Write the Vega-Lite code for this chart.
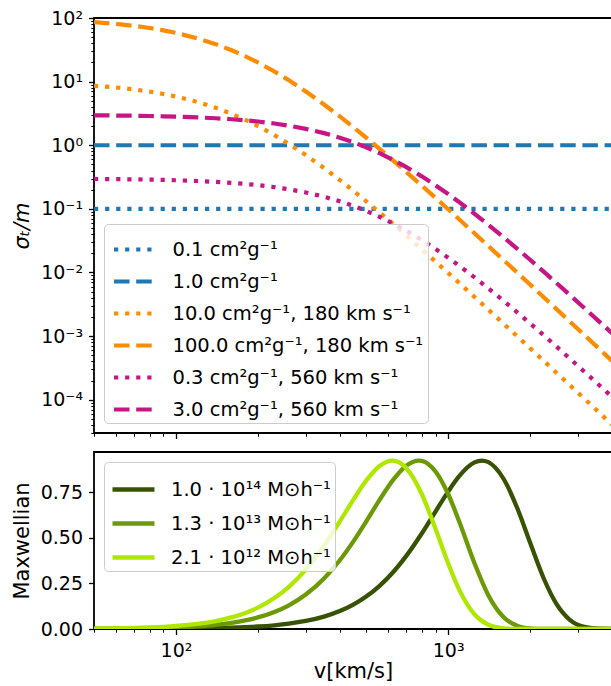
{
"$schema": "https://vega.github.io/schema/vega-lite/v6.json",
"padding": {"left": 10, "top": 8, "right": 0, "bottom": 0},
"spacing": 19,
"bounds": "flush",
"config": {
  "view": {"stroke": "black", "strokeWidth": 1.8},
  "font": "DejaVu Sans",
  "axis": {"grid": false, "domain": false, "tickColor": "black", "labelColor": "black", "labelFont": "DejaVu Sans", "labelFontSize": 19, "titleFont": "DejaVu Sans", "titleFontSize": 21, "titleFontWeight": "normal", "titleColor": "black", "tickWidth": 1.3, "tickSize": 5.5, "labelPadding": 6},
  "legend": {"title": null, "symbolType": "stroke", "labelFont": "DejaVu Sans", "labelFontSize": 19.5, "labelColor": "black", "fillColor": "rgba(255,255,255,0.8)", "strokeColor": "#cccccc", "cornerRadius": 4, "padding": 4, "rowPadding": 1, "labelLimit": 500}
},
"resolve": {"scale": {"color": "independent", "strokeDash": "independent", "x": "independent", "y": "independent"}},
"vconcat": [
{
  "width": 518, "height": 415,
  "data": {"values": [
{"v":50,"s":0.1,"c":"0.1 cm²g⁻¹"},{"v":4000,"s":0.1,"c":"0.1 cm²g⁻¹"},
{"v":50,"s":1.0,"c":"1.0 cm²g⁻¹"},{"v":4000,"s":1.0,"c":"1.0 cm²g⁻¹"},
{"v":50,"s":8.618,"c":"10.0 cm²g⁻¹, 180 km s⁻¹"},{"v":60,"s":8.1,"c":"10.0 cm²g⁻¹, 180 km s⁻¹"},{"v":70,"s":7.546,"c":"10.0 cm²g⁻¹, 180 km s⁻¹"},{"v":80,"s":6.973,"c":"10.0 cm²g⁻¹, 180 km s⁻¹"},{"v":90,"s":6.4,"c":"10.0 cm²g⁻¹, 180 km s⁻¹"},{"v":100,"s":5.839,"c":"10.0 cm²g⁻¹, 180 km s⁻¹"},{"v":120,"s":4.793,"c":"10.0 cm²g⁻¹, 180 km s⁻¹"},{"v":140,"s":3.882,"c":"10.0 cm²g⁻¹, 180 km s⁻¹"},{"v":160,"s":3.121,"c":"10.0 cm²g⁻¹, 180 km s⁻¹"},{"v":180,"s":2.5,"c":"10.0 cm²g⁻¹, 180 km s⁻¹"},{"v":200,"s":2.003,"c":"10.0 cm²g⁻¹, 180 km s⁻¹"},{"v":230,"s":1.443,"c":"10.0 cm²g⁻¹, 180 km s⁻¹"},{"v":260,"s":1.05,"c":"10.0 cm²g⁻¹, 180 km s⁻¹"},{"v":300,"s":0.7007,"c":"10.0 cm²g⁻¹, 180 km s⁻¹"},{"v":350,"s":0.4375,"c":"10.0 cm²g⁻¹, 180 km s⁻¹"},{"v":400,"s":0.2836,"c":"10.0 cm²g⁻¹, 180 km s⁻¹"},{"v":450,"s":0.1903,"c":"10.0 cm²g⁻¹, 180 km s⁻¹"},{"v":500,"s":0.1316,"c":"10.0 cm²g⁻¹, 180 km s⁻¹"},{"v":560,"s":0.08769,"c":"10.0 cm²g⁻¹, 180 km s⁻¹"},{"v":630,"s":0.05696,"c":"10.0 cm²g⁻¹, 180 km s⁻¹"},{"v":700,"s":0.03847,"c":"10.0 cm²g⁻¹, 180 km s⁻¹"},{"v":800,"s":0.02322,"c":"10.0 cm²g⁻¹, 180 km s⁻¹"},{"v":900,"s":0.01479,"c":"10.0 cm²g⁻¹, 180 km s⁻¹"},{"v":1000,"s":0.009849,"c":"10.0 cm²g⁻¹, 180 km s⁻¹"},{"v":1100,"s":0.006801,"c":"10.0 cm²g⁻¹, 180 km s⁻¹"},{"v":1250,"s":0.004127,"c":"10.0 cm²g⁻¹, 180 km s⁻¹"},{"v":1400,"s":0.002645,"c":"10.0 cm²g⁻¹, 180 km s⁻¹"},{"v":1600,"s":0.001562,"c":"10.0 cm²g⁻¹, 180 km s⁻¹"},{"v":1800,"s":0.0009803,"c":"10.0 cm²g⁻¹, 180 km s⁻¹"},{"v":2000,"s":0.0006456,"c":"10.0 cm²g⁻¹, 180 km s⁻¹"},{"v":2250,"s":0.0004044,"c":"10.0 cm²g⁻¹, 180 km s⁻¹"},{"v":2500,"s":0.000266,"c":"10.0 cm²g⁻¹, 180 km s⁻¹"},{"v":2800,"s":0.0001694,"c":"10.0 cm²g⁻¹, 180 km s⁻¹"},{"v":3200,"s":0.00009948,"c":"10.0 cm²g⁻¹, 180 km s⁻¹"},{"v":3600,"s":0.00006219,"c":"10.0 cm²g⁻¹, 180 km s⁻¹"},{"v":4000,"s":0.00004084,"c":"10.0 cm²g⁻¹, 180 km s⁻¹"},
{"v":50,"s":86.18,"c":"100.0 cm²g⁻¹, 180 km s⁻¹"},{"v":60,"s":81,"c":"100.0 cm²g⁻¹, 180 km s⁻¹"},{"v":70,"s":75.46,"c":"100.0 cm²g⁻¹, 180 km s⁻¹"},{"v":80,"s":69.73,"c":"100.0 cm²g⁻¹, 180 km s⁻¹"},{"v":90,"s":64,"c":"100.0 cm²g⁻¹, 180 km s⁻¹"},{"v":100,"s":58.39,"c":"100.0 cm²g⁻¹, 180 km s⁻¹"},{"v":120,"s":47.93,"c":"100.0 cm²g⁻¹, 180 km s⁻¹"},{"v":140,"s":38.82,"c":"100.0 cm²g⁻¹, 180 km s⁻¹"},{"v":160,"s":31.21,"c":"100.0 cm²g⁻¹, 180 km s⁻¹"},{"v":180,"s":25,"c":"100.0 cm²g⁻¹, 180 km s⁻¹"},{"v":200,"s":20.03,"c":"100.0 cm²g⁻¹, 180 km s⁻¹"},{"v":230,"s":14.43,"c":"100.0 cm²g⁻¹, 180 km s⁻¹"},{"v":260,"s":10.5,"c":"100.0 cm²g⁻¹, 180 km s⁻¹"},{"v":300,"s":7.007,"c":"100.0 cm²g⁻¹, 180 km s⁻¹"},{"v":350,"s":4.375,"c":"100.0 cm²g⁻¹, 180 km s⁻¹"},{"v":400,"s":2.836,"c":"100.0 cm²g⁻¹, 180 km s⁻¹"},{"v":450,"s":1.903,"c":"100.0 cm²g⁻¹, 180 km s⁻¹"},{"v":500,"s":1.316,"c":"100.0 cm²g⁻¹, 180 km s⁻¹"},{"v":560,"s":0.8769,"c":"100.0 cm²g⁻¹, 180 km s⁻¹"},{"v":630,"s":0.5696,"c":"100.0 cm²g⁻¹, 180 km s⁻¹"},{"v":700,"s":0.3847,"c":"100.0 cm²g⁻¹, 180 km s⁻¹"},{"v":800,"s":0.2322,"c":"100.0 cm²g⁻¹, 180 km s⁻¹"},{"v":900,"s":0.1479,"c":"100.0 cm²g⁻¹, 180 km s⁻¹"},{"v":1000,"s":0.09849,"c":"100.0 cm²g⁻¹, 180 km s⁻¹"},{"v":1100,"s":0.06801,"c":"100.0 cm²g⁻¹, 180 km s⁻¹"},{"v":1250,"s":0.04127,"c":"100.0 cm²g⁻¹, 180 km s⁻¹"},{"v":1400,"s":0.02645,"c":"100.0 cm²g⁻¹, 180 km s⁻¹"},{"v":1600,"s":0.01562,"c":"100.0 cm²g⁻¹, 180 km s⁻¹"},{"v":1800,"s":0.009803,"c":"100.0 cm²g⁻¹, 180 km s⁻¹"},{"v":2000,"s":0.006456,"c":"100.0 cm²g⁻¹, 180 km s⁻¹"},{"v":2250,"s":0.004044,"c":"100.0 cm²g⁻¹, 180 km s⁻¹"},{"v":2500,"s":0.00266,"c":"100.0 cm²g⁻¹, 180 km s⁻¹"},{"v":2800,"s":0.001694,"c":"100.0 cm²g⁻¹, 180 km s⁻¹"},{"v":3200,"s":0.0009948,"c":"100.0 cm²g⁻¹, 180 km s⁻¹"},{"v":3600,"s":0.0006219,"c":"100.0 cm²g⁻¹, 180 km s⁻¹"},{"v":4000,"s":0.0004084,"c":"100.0 cm²g⁻¹, 180 km s⁻¹"},
{"v":50,"s":0.2953,"c":"0.3 cm²g⁻¹, 560 km s⁻¹"},{"v":60,"s":0.2932,"c":"0.3 cm²g⁻¹, 560 km s⁻¹"},{"v":70,"s":0.2909,"c":"0.3 cm²g⁻¹, 560 km s⁻¹"},{"v":80,"s":0.2881,"c":"0.3 cm²g⁻¹, 560 km s⁻¹"},{"v":90,"s":0.2851,"c":"0.3 cm²g⁻¹, 560 km s⁻¹"},{"v":100,"s":0.2818,"c":"0.3 cm²g⁻¹, 560 km s⁻¹"},{"v":120,"s":0.2742,"c":"0.3 cm²g⁻¹, 560 km s⁻¹"},{"v":140,"s":0.2657,"c":"0.3 cm²g⁻¹, 560 km s⁻¹"},{"v":160,"s":0.2564,"c":"0.3 cm²g⁻¹, 560 km s⁻¹"},{"v":180,"s":0.2465,"c":"0.3 cm²g⁻¹, 560 km s⁻¹"},{"v":200,"s":0.236,"c":"0.3 cm²g⁻¹, 560 km s⁻¹"},{"v":230,"s":0.2197,"c":"0.3 cm²g⁻¹, 560 km s⁻¹"},{"v":260,"s":0.203,"c":"0.3 cm²g⁻¹, 560 km s⁻¹"},{"v":300,"s":0.1811,"c":"0.3 cm²g⁻¹, 560 km s⁻¹"},{"v":350,"s":0.1551,"c":"0.3 cm²g⁻¹, 560 km s⁻¹"},{"v":400,"s":0.1316,"c":"0.3 cm²g⁻¹, 560 km s⁻¹"},{"v":450,"s":0.1108,"c":"0.3 cm²g⁻¹, 560 km s⁻¹"},{"v":500,"s":0.09288,"c":"0.3 cm²g⁻¹, 560 km s⁻¹"},{"v":560,"s":0.075,"c":"0.3 cm²g⁻¹, 560 km s⁻¹"},{"v":630,"s":0.05844,"c":"0.3 cm²g⁻¹, 560 km s⁻¹"},{"v":700,"s":0.04569,"c":"0.3 cm²g⁻¹, 560 km s⁻¹"},{"v":800,"s":0.03243,"c":"0.3 cm²g⁻¹, 560 km s⁻¹"},{"v":900,"s":0.02337,"c":"0.3 cm²g⁻¹, 560 km s⁻¹"},{"v":1000,"s":0.0171,"c":"0.3 cm²g⁻¹, 560 km s⁻¹"},{"v":1100,"s":0.01271,"c":"0.3 cm²g⁻¹, 560 km s⁻¹"},{"v":1250,"s":0.008382,"c":"0.3 cm²g⁻¹, 560 km s⁻¹"},{"v":1400,"s":0.005709,"c":"0.3 cm²g⁻¹, 560 km s⁻¹"},{"v":1600,"s":0.003573,"c":"0.3 cm²g⁻¹, 560 km s⁻¹"},{"v":1800,"s":0.002336,"c":"0.3 cm²g⁻¹, 560 km s⁻¹"},{"v":2000,"s":0.001586,"c":"0.3 cm²g⁻¹, 560 km s⁻¹"},{"v":2250,"s":0.001021,"c":"0.3 cm²g⁻¹, 560 km s⁻¹"},{"v":2500,"s":0.0006849,"c":"0.3 cm²g⁻¹, 560 km s⁻¹"},{"v":2800,"s":0.0004437,"c":"0.3 cm²g⁻¹, 560 km s⁻¹"},{"v":3200,"s":0.0002649,"c":"0.3 cm²g⁻¹, 560 km s⁻¹"},{"v":3600,"s":0.0001675,"c":"0.3 cm²g⁻¹, 560 km s⁻¹"},{"v":4000,"s":0.0001109,"c":"0.3 cm²g⁻¹, 560 km s⁻¹"},
{"v":50,"s":2.953,"c":"3.0 cm²g⁻¹, 560 km s⁻¹"},{"v":60,"s":2.932,"c":"3.0 cm²g⁻¹, 560 km s⁻¹"},{"v":70,"s":2.909,"c":"3.0 cm²g⁻¹, 560 km s⁻¹"},{"v":80,"s":2.881,"c":"3.0 cm²g⁻¹, 560 km s⁻¹"},{"v":90,"s":2.851,"c":"3.0 cm²g⁻¹, 560 km s⁻¹"},{"v":100,"s":2.818,"c":"3.0 cm²g⁻¹, 560 km s⁻¹"},{"v":120,"s":2.742,"c":"3.0 cm²g⁻¹, 560 km s⁻¹"},{"v":140,"s":2.657,"c":"3.0 cm²g⁻¹, 560 km s⁻¹"},{"v":160,"s":2.564,"c":"3.0 cm²g⁻¹, 560 km s⁻¹"},{"v":180,"s":2.465,"c":"3.0 cm²g⁻¹, 560 km s⁻¹"},{"v":200,"s":2.36,"c":"3.0 cm²g⁻¹, 560 km s⁻¹"},{"v":230,"s":2.197,"c":"3.0 cm²g⁻¹, 560 km s⁻¹"},{"v":260,"s":2.03,"c":"3.0 cm²g⁻¹, 560 km s⁻¹"},{"v":300,"s":1.811,"c":"3.0 cm²g⁻¹, 560 km s⁻¹"},{"v":350,"s":1.551,"c":"3.0 cm²g⁻¹, 560 km s⁻¹"},{"v":400,"s":1.316,"c":"3.0 cm²g⁻¹, 560 km s⁻¹"},{"v":450,"s":1.108,"c":"3.0 cm²g⁻¹, 560 km s⁻¹"},{"v":500,"s":0.9288,"c":"3.0 cm²g⁻¹, 560 km s⁻¹"},{"v":560,"s":0.75,"c":"3.0 cm²g⁻¹, 560 km s⁻¹"},{"v":630,"s":0.5844,"c":"3.0 cm²g⁻¹, 560 km s⁻¹"},{"v":700,"s":0.4569,"c":"3.0 cm²g⁻¹, 560 km s⁻¹"},{"v":800,"s":0.3243,"c":"3.0 cm²g⁻¹, 560 km s⁻¹"},{"v":900,"s":0.2337,"c":"3.0 cm²g⁻¹, 560 km s⁻¹"},{"v":1000,"s":0.171,"c":"3.0 cm²g⁻¹, 560 km s⁻¹"},{"v":1100,"s":0.1271,"c":"3.0 cm²g⁻¹, 560 km s⁻¹"},{"v":1250,"s":0.08382,"c":"3.0 cm²g⁻¹, 560 km s⁻¹"},{"v":1400,"s":0.05709,"c":"3.0 cm²g⁻¹, 560 km s⁻¹"},{"v":1600,"s":0.03573,"c":"3.0 cm²g⁻¹, 560 km s⁻¹"},{"v":1800,"s":0.02336,"c":"3.0 cm²g⁻¹, 560 km s⁻¹"},{"v":2000,"s":0.01586,"c":"3.0 cm²g⁻¹, 560 km s⁻¹"},{"v":2250,"s":0.01021,"c":"3.0 cm²g⁻¹, 560 km s⁻¹"},{"v":2500,"s":0.006849,"c":"3.0 cm²g⁻¹, 560 km s⁻¹"},{"v":2800,"s":0.004437,"c":"3.0 cm²g⁻¹, 560 km s⁻¹"},{"v":3200,"s":0.002649,"c":"3.0 cm²g⁻¹, 560 km s⁻¹"},{"v":3600,"s":0.001675,"c":"3.0 cm²g⁻¹, 560 km s⁻¹"},{"v":4000,"s":0.001109,"c":"3.0 cm²g⁻¹, 560 km s⁻¹"}
  ]},
  "layer": [
    {
      "mark": {"type": "line", "strokeWidth": 4.2, "clip": true, "strokeCap": "butt"},
      "encoding": {
        "x": {"field": "v", "type": "quantitative", "scale": {"type": "log", "domain": [50, 4000], "nice": false}, "axis": {"values": [100, 1000], "labels": false, "title": null, "orient": "bottom"}},
        "y": {"field": "s", "type": "quantitative", "scale": {"type": "log", "domain": [0.00003, 100], "nice": false}, "axis": {"values": [0.0001, 0.001, 0.01, 0.1, 1, 10, 100], "labelExpr": "datum.value >= 99 ? '10²' : datum.value >= 9 ? '10¹' : datum.value >= 0.9 ? '10⁰' : datum.value >= 0.09 ? '10⁻¹' : datum.value >= 0.009 ? '10⁻²' : datum.value >= 0.0009 ? '10⁻³' : '10⁻⁴'", "title": "σₜ/m", "titleFontStyle": "italic", "titleX": -65.7, "titleBaseline": "alphabetic", "orient": "left"}},
        "color": {"field": "c", "type": "nominal", "sort": null,
          "scale": {"domain": ["0.1 cm²g⁻¹", "1.0 cm²g⁻¹", "10.0 cm²g⁻¹, 180 km s⁻¹", "100.0 cm²g⁻¹, 180 km s⁻¹", "0.3 cm²g⁻¹, 560 km s⁻¹", "3.0 cm²g⁻¹, 560 km s⁻¹"], "range": ["#1f77b4", "#1f77b4", "#ff8c00", "#ff8c00", "#c71585", "#c71585"]},
          "legend": {"orient": "bottom-left", "offset": 10, "symbolSize": 1444, "symbolStrokeWidth": 4.2, "symbolOffset": 3.5, "labelOffset": 18}},
        "strokeDash": {"field": "c", "type": "nominal", "sort": null,
          "scale": {"domain": ["0.1 cm²g⁻¹", "1.0 cm²g⁻¹", "10.0 cm²g⁻¹, 180 km s⁻¹", "100.0 cm²g⁻¹, 180 km s⁻¹", "0.3 cm²g⁻¹, 560 km s⁻¹", "3.0 cm²g⁻¹, 560 km s⁻¹"], "range": [[4.2, 6.9], [15.5, 6.7], [4.2, 6.9], [15.5, 6.7], [4.2, 6.9], [15.5, 6.7]]},
          "legend": {"orient": "bottom-left", "offset": 10, "symbolSize": 1444, "symbolStrokeWidth": 4.2, "symbolOffset": 3.5, "labelOffset": 18}}
      }
    },
    {
      "mark": {"type": "point", "opacity": 0},
      "encoding": {
        "x": {"field": "v", "type": "quantitative", "scale": {"type": "log", "domain": [50, 4000], "nice": false}, "axis": {"values": [50, 60, 70, 80, 90, 200, 300, 400, 500, 600, 700, 800, 900, 2000, 3000, 4000], "labels": false, "title": null, "orient": "bottom", "tickSize": 3.2, "tickWidth": 1}},
        "y": {"field": "s", "type": "quantitative", "scale": {"type": "log", "domain": [0.00003, 100], "nice": false}, "axis": {"values": [0.00003, 0.00004, 0.00005, 0.00006, 0.00007, 0.00008, 0.00009, 0.0002, 0.0003, 0.0004, 0.0005, 0.0006, 0.0007, 0.0008, 0.0009, 0.002, 0.003, 0.004, 0.005, 0.006, 0.007, 0.008, 0.009, 0.02, 0.03, 0.04, 0.05, 0.06, 0.07, 0.08, 0.09, 0.2, 0.3, 0.4, 0.5, 0.6, 0.7, 0.8, 0.9, 2, 3, 4, 5, 6, 7, 8, 9, 20, 30, 40, 50, 60, 70, 80, 90], "labels": false, "title": null, "orient": "left", "tickSize": 3.2, "tickWidth": 1}}
      }
    }
  ],
  "resolve": {"axis": {"x": "independent", "y": "independent"}}
},
{
  "width": 518, "height": 177,
  "data": {"values": [
{"v":50,"m":0.0002197,"c":"1.0 · 10¹⁴ M⊙h⁻¹"},{"v":60,"m":0.0003793,"c":"1.0 · 10¹⁴ M⊙h⁻¹"},{"v":70,"m":0.0006017,"c":"1.0 · 10¹⁴ M⊙h⁻¹"},{"v":80,"m":0.000897,"c":"1.0 · 10¹⁴ M⊙h⁻¹"},{"v":90,"m":0.001275,"c":"1.0 · 10¹⁴ M⊙h⁻¹"},{"v":100,"m":0.001747,"c":"1.0 · 10¹⁴ M⊙h⁻¹"},{"v":120,"m":0.003007,"c":"1.0 · 10¹⁴ M⊙h⁻¹"},{"v":140,"m":0.004754,"c":"1.0 · 10¹⁴ M⊙h⁻¹"},{"v":160,"m":0.00706,"c":"1.0 · 10¹⁴ M⊙h⁻¹"},{"v":180,"m":0.009995,"c":"1.0 · 10¹⁴ M⊙h⁻¹"},{"v":200,"m":0.01362,"c":"1.0 · 10¹⁴ M⊙h⁻¹"},{"v":230,"m":0.02049,"c":"1.0 · 10¹⁴ M⊙h⁻¹"},{"v":260,"m":0.02923,"c":"1.0 · 10¹⁴ M⊙h⁻¹"},{"v":300,"m":0.04406,"c":"1.0 · 10¹⁴ M⊙h⁻¹"},{"v":350,"m":0.06807,"c":"1.0 · 10¹⁴ M⊙h⁻¹"},{"v":400,"m":0.09843,"c":"1.0 · 10¹⁴ M⊙h⁻¹"},{"v":450,"m":0.1352,"c":"1.0 · 10¹⁴ M⊙h⁻¹"},{"v":500,"m":0.1781,"c":"1.0 · 10¹⁴ M⊙h⁻¹"},{"v":560,"m":0.2371,"c":"1.0 · 10¹⁴ M⊙h⁻¹"},{"v":630,"m":0.3146,"c":"1.0 · 10¹⁴ M⊙h⁻¹"},{"v":700,"m":0.3988,"c":"1.0 · 10¹⁴ M⊙h⁻¹"},{"v":800,"m":0.5242,"c":"1.0 · 10¹⁴ M⊙h⁻¹"},{"v":900,"m":0.6462,"c":"1.0 · 10¹⁴ M⊙h⁻¹"},{"v":1000,"m":0.7546,"c":"1.0 · 10¹⁴ M⊙h⁻¹"},{"v":1100,"m":0.8405,"c":"1.0 · 10¹⁴ M⊙h⁻¹"},{"v":1250,"m":0.9148,"c":"1.0 · 10¹⁴ M⊙h⁻¹"},{"v":1330,"m":0.9251,"c":"1.0 · 10¹⁴ M⊙h⁻¹"},{"v":1400,"m":0.9176,"c":"1.0 · 10¹⁴ M⊙h⁻¹"},{"v":1600,"m":0.8237,"c":"1.0 · 10¹⁴ M⊙h⁻¹"},{"v":1800,"m":0.6589,"c":"1.0 · 10¹⁴ M⊙h⁻¹"},{"v":2000,"m":0.4746,"c":"1.0 · 10¹⁴ M⊙h⁻¹"},{"v":2250,"m":0.2745,"c":"1.0 · 10¹⁴ M⊙h⁻¹"},{"v":2500,"m":0.1376,"c":"1.0 · 10¹⁴ M⊙h⁻¹"},{"v":2800,"m":0.05022,"c":"1.0 · 10¹⁴ M⊙h⁻¹"},{"v":3200,"m":0.009801,"c":"1.0 · 10¹⁴ M⊙h⁻¹"},{"v":3600,"m":0.001391,"c":"1.0 · 10¹⁴ M⊙h⁻¹"},{"v":4000,"m":0.0001449,"c":"1.0 · 10¹⁴ M⊙h⁻¹"},
{"v":50,"m":0.001088,"c":"1.3 · 10¹³ M⊙h⁻¹"},{"v":60,"m":0.001875,"c":"1.3 · 10¹³ M⊙h⁻¹"},{"v":70,"m":0.002967,"c":"1.3 · 10¹³ M⊙h⁻¹"},{"v":80,"m":0.004413,"c":"1.3 · 10¹³ M⊙h⁻¹"},{"v":90,"m":0.006257,"c":"1.3 · 10¹³ M⊙h⁻¹"},{"v":100,"m":0.008543,"c":"1.3 · 10¹³ M⊙h⁻¹"},{"v":120,"m":0.0146,"c":"1.3 · 10¹³ M⊙h⁻¹"},{"v":140,"m":0.02289,"c":"1.3 · 10¹³ M⊙h⁻¹"},{"v":160,"m":0.03367,"c":"1.3 · 10¹³ M⊙h⁻¹"},{"v":180,"m":0.04714,"c":"1.3 · 10¹³ M⊙h⁻¹"},{"v":200,"m":0.06346,"c":"1.3 · 10¹³ M⊙h⁻¹"},{"v":230,"m":0.09349,"c":"1.3 · 10¹³ M⊙h⁻¹"},{"v":260,"m":0.1302,"c":"1.3 · 10¹³ M⊙h⁻¹"},{"v":300,"m":0.1893,"c":"1.3 · 10¹³ M⊙h⁻¹"},{"v":350,"m":0.2774,"c":"1.3 · 10¹³ M⊙h⁻¹"},{"v":400,"m":0.3775,"c":"1.3 · 10¹³ M⊙h⁻¹"},{"v":450,"m":0.4839,"c":"1.3 · 10¹³ M⊙h⁻¹"},{"v":500,"m":0.5904,"c":"1.3 · 10¹³ M⊙h⁻¹"},{"v":560,"m":0.7089,"c":"1.3 · 10¹³ M⊙h⁻¹"},{"v":630,"m":0.8217,"c":"1.3 · 10¹³ M⊙h⁻¹"},{"v":700,"m":0.8956,"c":"1.3 · 10¹³ M⊙h⁻¹"},{"v":780,"m":0.925,"c":"1.3 · 10¹³ M⊙h⁻¹"},{"v":800,"m":0.9232,"c":"1.3 · 10¹³ M⊙h⁻¹"},{"v":900,"m":0.8638,"c":"1.3 · 10¹³ M⊙h⁻¹"},{"v":1000,"m":0.7413,"c":"1.3 · 10¹³ M⊙h⁻¹"},{"v":1100,"m":0.5874,"c":"1.3 · 10¹³ M⊙h⁻¹"},{"v":1250,"m":0.3609,"c":"1.3 · 10¹³ M⊙h⁻¹"},{"v":1400,"m":0.19,"c":"1.3 · 10¹³ M⊙h⁻¹"},{"v":1600,"m":0.0645,"c":"1.3 · 10¹³ M⊙h⁻¹"},{"v":1800,"m":0.01713,"c":"1.3 · 10¹³ M⊙h⁻¹"},{"v":2000,"m":0.003599,"c":"1.3 · 10¹³ M⊙h⁻¹"},{"v":2250,"m":0.0003717,"c":"1.3 · 10¹³ M⊙h⁻¹"},{"v":2500,"m":0.000027,"c":"1.3 · 10¹³ M⊙h⁻¹"},{"v":2800,"m":0,"c":"1.3 · 10¹³ M⊙h⁻¹"},{"v":3200,"m":0,"c":"1.3 · 10¹³ M⊙h⁻¹"},{"v":3600,"m":0,"c":"1.3 · 10¹³ M⊙h⁻¹"},{"v":4000,"m":0,"c":"1.3 · 10¹³ M⊙h⁻¹"},
{"v":50,"m":0.002117,"c":"2.1 · 10¹² M⊙h⁻¹"},{"v":60,"m":0.003643,"c":"2.1 · 10¹² M⊙h⁻¹"},{"v":70,"m":0.005755,"c":"2.1 · 10¹² M⊙h⁻¹"},{"v":80,"m":0.008543,"c":"2.1 · 10¹² M⊙h⁻¹"},{"v":90,"m":0.01208,"c":"2.1 · 10¹² M⊙h⁻¹"},{"v":100,"m":0.01645,"c":"2.1 · 10¹² M⊙h⁻¹"},{"v":120,"m":0.02795,"c":"2.1 · 10¹² M⊙h⁻¹"},{"v":140,"m":0.04351,"c":"2.1 · 10¹² M⊙h⁻¹"},{"v":160,"m":0.06346,"c":"2.1 · 10¹² M⊙h⁻¹"},{"v":180,"m":0.08802,"c":"2.1 · 10¹² M⊙h⁻¹"},{"v":200,"m":0.1172,"c":"2.1 · 10¹² M⊙h⁻¹"},{"v":230,"m":0.1697,"c":"2.1 · 10¹² M⊙h⁻¹"},{"v":260,"m":0.2316,"c":"2.1 · 10¹² M⊙h⁻¹"},{"v":300,"m":0.3263,"c":"2.1 · 10¹² M⊙h⁻¹"},{"v":350,"m":0.4571,"c":"2.1 · 10¹² M⊙h⁻¹"},{"v":400,"m":0.5904,"c":"2.1 · 10¹² M⊙h⁻¹"},{"v":450,"m":0.7135,"c":"2.1 · 10¹² M⊙h⁻¹"},{"v":500,"m":0.8148,"c":"2.1 · 10¹² M⊙h⁻¹"},{"v":560,"m":0.8956,"c":"2.1 · 10¹² M⊙h⁻¹"},{"v":624,"m":0.925,"c":"2.1 · 10¹² M⊙h⁻¹"},{"v":700,"m":0.8857,"c":"2.1 · 10¹² M⊙h⁻¹"},{"v":800,"m":0.7413,"c":"2.1 · 10¹² M⊙h⁻¹"},{"v":900,"m":0.5478,"c":"2.1 · 10¹² M⊙h⁻¹"},{"v":1000,"m":0.3609,"c":"2.1 · 10¹² M⊙h⁻¹"},{"v":1100,"m":0.2137,"c":"2.1 · 10¹² M⊙h⁻¹"},{"v":1250,"m":0.08053,"c":"2.1 · 10¹² M⊙h⁻¹"},{"v":1400,"m":0.0244,"c":"2.1 · 10¹² M⊙h⁻¹"},{"v":1600,"m":0.003599,"c":"2.1 · 10¹² M⊙h⁻¹"},{"v":1800,"m":0.0003717,"c":"2.1 · 10¹² M⊙h⁻¹"},{"v":2000,"m":0.000027,"c":"2.1 · 10¹² M⊙h⁻¹"},{"v":2250,"m":0,"c":"2.1 · 10¹² M⊙h⁻¹"},{"v":2500,"m":0,"c":"2.1 · 10¹² M⊙h⁻¹"},{"v":2800,"m":0,"c":"2.1 · 10¹² M⊙h⁻¹"},{"v":3200,"m":0,"c":"2.1 · 10¹² M⊙h⁻¹"},{"v":3600,"m":0,"c":"2.1 · 10¹² M⊙h⁻¹"},{"v":4000,"m":0,"c":"2.1 · 10¹² M⊙h⁻¹"}
  ]},
  "layer": [
    {
      "mark": {"type": "line", "strokeWidth": 4.3, "clip": true, "interpolate": "monotone"},
      "encoding": {
        "x": {"field": "v", "type": "quantitative", "scale": {"type": "log", "domain": [50, 4000], "nice": false}, "axis": {"values": [100, 1000], "labelExpr": "datum.value >= 999 ? '10³' : '10²'", "title": "v[km/s]", "titleY": 48.7, "titleBaseline": "alphabetic", "orient": "bottom", "labelPadding": 6.5}},
        "y": {"field": "m", "type": "quantitative", "scale": {"domain": [0, 0.972], "nice": false, "zero": false}, "axis": {"values": [0, 0.25, 0.5, 0.75], "format": ".2f", "title": "Maxwellian", "titleX": -65.7, "titleBaseline": "alphabetic"}},
        "color": {"field": "c", "type": "nominal", "sort": null,
          "scale": {"domain": ["1.0 · 10¹⁴ M⊙h⁻¹", "1.3 · 10¹³ M⊙h⁻¹", "2.1 · 10¹² M⊙h⁻¹"], "range": ["#385203", "#6c9a06", "#aee801"]},
          "legend": {"orient": "top-left", "offset": 10, "symbolSize": 1764, "symbolStrokeWidth": 4.3, "symbolOffset": 2, "labelOffset": 14}}
      }
    },
    {
      "mark": {"type": "point", "opacity": 0},
      "encoding": {
        "x": {"field": "v", "type": "quantitative", "scale": {"type": "log", "domain": [50, 4000], "nice": false}, "axis": {"values": [50, 60, 70, 80, 90, 200, 300, 400, 500, 600, 700, 800, 900, 2000, 3000, 4000], "labels": false, "title": null, "orient": "bottom", "tickSize": 3.2, "tickWidth": 1}}
      }
    }
  ],
  "resolve": {"axis": {"x": "independent"}}
}
]
}
